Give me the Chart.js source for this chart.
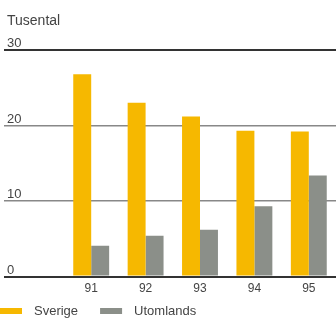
<!DOCTYPE html>
<html>
<head>
<meta charset="utf-8">
<style>
  html, body { margin: 0; padding: 0; background: #fff; }
</style>
<script src="https://cdn.jsdelivr.net/npm/chart.js@4/dist/chart.umd.min.js"></script>
</head>
<body>
<canvas id="chart" width="336" height="320"></canvas>
<script>
const years = ['91', '92', '93', '94', '95']
const sverige = [26.8, 23.0, 21.2, 19.3, 19.2]
const utomlands = [4.1, 5.4, 6.2, 9.3, 13.4]
const yTicks = [0, 10, 20, 30]
const unitLabel = 'Tusental'

const yellow = '#f6b800'
const grey = '#8b8f89'
const font = '"Liberation Sans", Arial, sans-serif'

// y labels sit above their grid line, title and legend are drawn by hand
const extras = {
  id: 'extras',
  afterDraw(chart) {
    const ctx = chart.ctx
    const y = chart.scales.y
    ctx.save()
    ctx.fillStyle = '#444'
    ctx.textAlign = 'left'
    ctx.textBaseline = 'alphabetic'
    ctx.font = '13px ' + font
    yTicks.forEach(v => {
      ctx.fillText(String(v), 7, y.getPixelForValue(v) - 3)
    })
    ctx.font = '14px ' + font
    ctx.fillText(unitLabel, 7, 25)

    // legend
    ctx.font = '13px ' + font
    ctx.textBaseline = 'middle'
    let x = 0
    const ly = 311
    chart.data.datasets.forEach(ds => {
      ctx.fillStyle = ds.backgroundColor
      ctx.fillRect(x, ly - 3, 22, 6)
      ctx.fillStyle = '#444'
      ctx.fillText(ds.label, x + 34, ly)
      x += 34 + ctx.measureText(ds.label).width + 22
    })
    ctx.restore()
  }
}

new Chart(document.getElementById('chart'), {
  type: 'bar',
  data: {
    labels: years,
    datasets: [
      { label: 'Sverige', data: sverige, backgroundColor: yellow },
      { label: 'Utomlands', data: utomlands, backgroundColor: grey }
    ]
  },
  options: {
    responsive: false,
    animation: false,
    layout: { padding: { top: 50, bottom: 19, left: 0, right: 0 } },
    datasets: { bar: { categoryPercentage: 0.66, barPercentage: 1 } },
    plugins: { legend: { display: false }, tooltip: { enabled: false } },
    scales: {
      x: {
        grid: { display: false, drawTicks: false },
        border: { display: false },
        ticks: { color: '#444', font: { size: 12, family: font }, padding: 5 }
      },
      y: {
        min: 0,
        max: 30,
        afterFit: s => { s.width = 64 },
        ticks: { display: false, stepSize: 10 },
        border: { display: false },
        grid: {
          tickLength: 60,
          color: c => (c.tick.value === 30 || c.tick.value === 0) ? '#333' : '#888',
          lineWidth: c => (c.tick.value === 30 || c.tick.value === 0) ? 2 : 1.5
        }
      }
    }
  },
  plugins: [extras]
})
</script>
</body>
</html>
